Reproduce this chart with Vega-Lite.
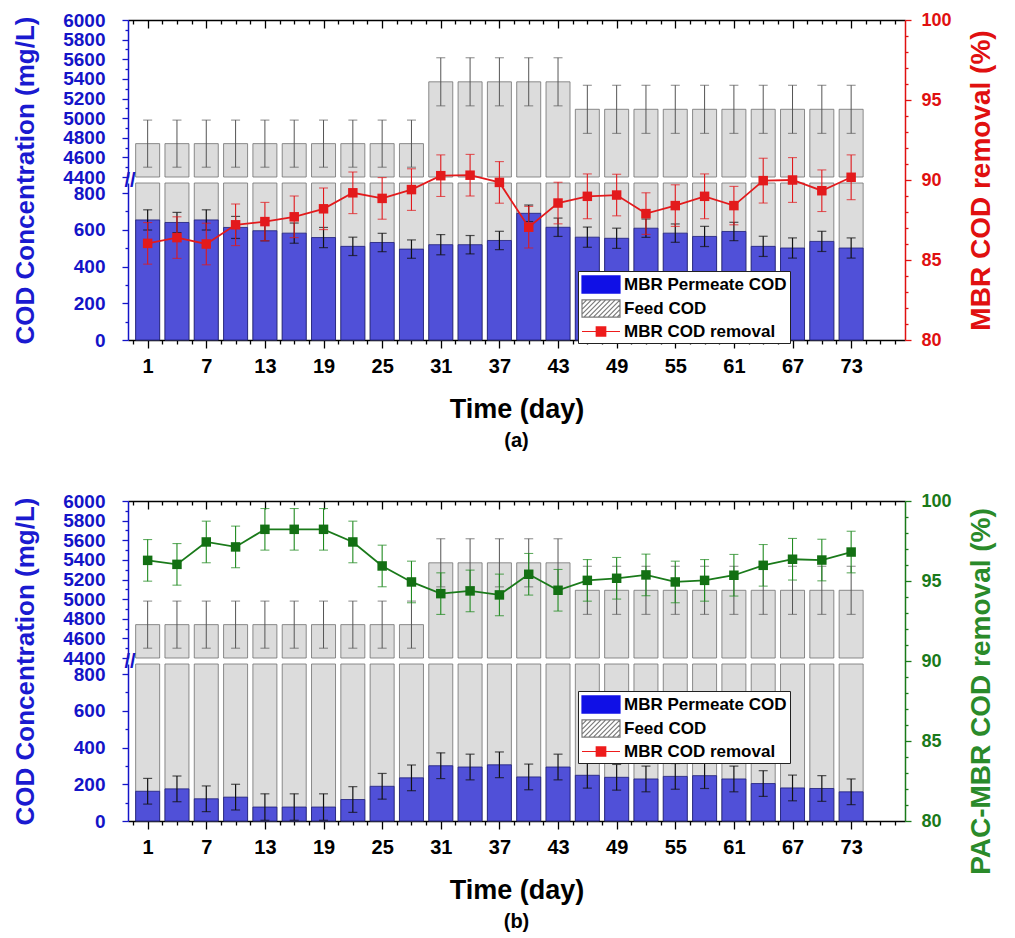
{
  "$schema": "https://vega.github.io/schema/vega-lite/v6.json",
  "padding": {"left": 12, "top": 11, "right": 5, "bottom": 5},
  "background": "white",
  "config": {
    "view": {"stroke": null},
    "font": "Liberation Sans",
    "axis": {"labelFont": "Liberation Sans", "titleFont": "Liberation Sans", "labelFontWeight": "bold", "titleFontWeight": "bold", "grid": false, "labelOverlap": false, "labelFlush": false, "labelBound": false, "domainWidth": 1.5, "tickWidth": 1.3}
  },
  "datasets": {
    "a": [
      {"day": 1, "feed": 4740, "feed_err": 240, "perm": 654, "perm_err": 55, "rem": 86.04, "rem_err": 1.3},
      {"day": 4, "feed": 4740, "feed_err": 240, "perm": 640, "perm_err": 55, "rem": 86.4, "rem_err": 1.3},
      {"day": 7, "feed": 4740, "feed_err": 240, "perm": 654, "perm_err": 55, "rem": 86.0, "rem_err": 1.3},
      {"day": 10, "feed": 4740, "feed_err": 240, "perm": 613, "perm_err": 60, "rem": 87.2, "rem_err": 1.3},
      {"day": 13, "feed": 4740, "feed_err": 240, "perm": 595, "perm_err": 55, "rem": 87.4, "rem_err": 1.2},
      {"day": 16, "feed": 4740, "feed_err": 240, "perm": 582, "perm_err": 55, "rem": 87.7, "rem_err": 1.3},
      {"day": 19, "feed": 4740, "feed_err": 240, "perm": 558, "perm_err": 55, "rem": 88.2, "rem_err": 1.3},
      {"day": 22, "feed": 4740, "feed_err": 240, "perm": 510, "perm_err": 50, "rem": 89.2, "rem_err": 1.3},
      {"day": 25, "feed": 4740, "feed_err": 240, "perm": 531, "perm_err": 50, "rem": 88.85, "rem_err": 1.3},
      {"day": 28, "feed": 4740, "feed_err": 240, "perm": 495, "perm_err": 50, "rem": 89.4, "rem_err": 1.3},
      {"day": 31, "feed": 5370, "feed_err": 245, "perm": 519, "perm_err": 55, "rem": 90.27, "rem_err": 1.3},
      {"day": 34, "feed": 5370, "feed_err": 245, "perm": 519, "perm_err": 50, "rem": 90.3, "rem_err": 1.3},
      {"day": 37, "feed": 5370, "feed_err": 245, "perm": 542, "perm_err": 50, "rem": 89.85, "rem_err": 1.3},
      {"day": 40, "feed": 5370, "feed_err": 245, "perm": 690, "perm_err": 45, "rem": 87.05, "rem_err": 1.3},
      {"day": 43, "feed": 5370, "feed_err": 245, "perm": 614, "perm_err": 50, "rem": 88.56, "rem_err": 1.3},
      {"day": 46, "feed": 5090, "feed_err": 245, "perm": 560, "perm_err": 55, "rem": 88.98, "rem_err": 1.4},
      {"day": 49, "feed": 5090, "feed_err": 245, "perm": 554, "perm_err": 55, "rem": 89.06, "rem_err": 1.3},
      {"day": 52, "feed": 5090, "feed_err": 245, "perm": 609, "perm_err": 50, "rem": 87.9, "rem_err": 1.3},
      {"day": 55, "feed": 5090, "feed_err": 245, "perm": 582, "perm_err": 50, "rem": 88.4, "rem_err": 1.3},
      {"day": 58, "feed": 5090, "feed_err": 245, "perm": 564, "perm_err": 55, "rem": 88.98, "rem_err": 1.4},
      {"day": 61, "feed": 5090, "feed_err": 245, "perm": 591, "perm_err": 50, "rem": 88.4, "rem_err": 1.2},
      {"day": 64, "feed": 5090, "feed_err": 245, "perm": 510, "perm_err": 55, "rem": 89.96, "rem_err": 1.4},
      {"day": 67, "feed": 5090, "feed_err": 245, "perm": 501, "perm_err": 55, "rem": 90.0, "rem_err": 1.4},
      {"day": 70, "feed": 5090, "feed_err": 245, "perm": 537, "perm_err": 55, "rem": 89.33, "rem_err": 1.3},
      {"day": 73, "feed": 5090, "feed_err": 245, "perm": 501, "perm_err": 55, "rem": 90.17, "rem_err": 1.4}
    ],
    "b": [
      {"day": 1, "feed": 4740, "feed_err": 240, "perm": 162, "perm_err": 70, "rem": 96.29, "rem_err": 1.3},
      {"day": 4, "feed": 4740, "feed_err": 240, "perm": 175, "perm_err": 70, "rem": 96.04, "rem_err": 1.3},
      {"day": 7, "feed": 4740, "feed_err": 240, "perm": 121, "perm_err": 70, "rem": 97.44, "rem_err": 1.3},
      {"day": 10, "feed": 4740, "feed_err": 240, "perm": 130, "perm_err": 70, "rem": 97.13, "rem_err": 1.3},
      {"day": 13, "feed": 4740, "feed_err": 240, "perm": 76, "perm_err": 72, "rem": 98.23, "rem_err": 1.3},
      {"day": 16, "feed": 4740, "feed_err": 240, "perm": 76, "perm_err": 72, "rem": 98.23, "rem_err": 1.3},
      {"day": 19, "feed": 4740, "feed_err": 240, "perm": 76, "perm_err": 72, "rem": 98.23, "rem_err": 1.3},
      {"day": 22, "feed": 4740, "feed_err": 240, "perm": 117, "perm_err": 70, "rem": 97.44, "rem_err": 1.3},
      {"day": 25, "feed": 4740, "feed_err": 240, "perm": 189, "perm_err": 70, "rem": 95.94, "rem_err": 1.3},
      {"day": 28, "feed": 4740, "feed_err": 240, "perm": 235, "perm_err": 70, "rem": 94.94, "rem_err": 1.3},
      {"day": 31, "feed": 5370, "feed_err": 245, "perm": 301, "perm_err": 70, "rem": 94.21, "rem_err": 1.3},
      {"day": 34, "feed": 5370, "feed_err": 245, "perm": 294, "perm_err": 70, "rem": 94.38, "rem_err": 1.3},
      {"day": 37, "feed": 5370, "feed_err": 245, "perm": 306, "perm_err": 70, "rem": 94.13, "rem_err": 1.3},
      {"day": 40, "feed": 5370, "feed_err": 245, "perm": 240, "perm_err": 70, "rem": 95.42, "rem_err": 1.3},
      {"day": 43, "feed": 5370, "feed_err": 245, "perm": 294, "perm_err": 70, "rem": 94.42, "rem_err": 1.3},
      {"day": 46, "feed": 5090, "feed_err": 245, "perm": 249, "perm_err": 70, "rem": 95.04, "rem_err": 1.3},
      {"day": 49, "feed": 5090, "feed_err": 245, "perm": 238, "perm_err": 70, "rem": 95.17, "rem_err": 1.3},
      {"day": 52, "feed": 5090, "feed_err": 245, "perm": 229, "perm_err": 70, "rem": 95.38, "rem_err": 1.3},
      {"day": 55, "feed": 5090, "feed_err": 245, "perm": 243, "perm_err": 70, "rem": 94.94, "rem_err": 1.3},
      {"day": 58, "feed": 5090, "feed_err": 245, "perm": 247, "perm_err": 70, "rem": 95.04, "rem_err": 1.3},
      {"day": 61, "feed": 5090, "feed_err": 245, "perm": 229, "perm_err": 70, "rem": 95.36, "rem_err": 1.3},
      {"day": 64, "feed": 5090, "feed_err": 245, "perm": 204, "perm_err": 70, "rem": 95.98, "rem_err": 1.3},
      {"day": 67, "feed": 5090, "feed_err": 245, "perm": 180, "perm_err": 70, "rem": 96.36, "rem_err": 1.3},
      {"day": 70, "feed": 5090, "feed_err": 245, "perm": 177, "perm_err": 70, "rem": 96.31, "rem_err": 1.3},
      {"day": 73, "feed": 5090, "feed_err": 245, "perm": 159, "perm_err": 70, "rem": 96.81, "rem_err": 1.3}
    ],
    "legend": [
      {"series": "MBR Permeate COD"},
      {"series": "Feed COD"},
      {"series": "MBR COD removal"}
    ],
    "brk": [
      {"mark": "//"}
    ]
  },
  "spacing": 41,
  "resolve": {"scale": {"stroke": "independent", "shape": "independent"}, "legend": {"stroke": "independent", "shape": "independent"}},
  "vconcat": [
    {
      "width": 777, "height": 320,
      "data": {"name": "a"},
      "title": {"text": "(a)", "orient": "bottom", "anchor": "middle", "fontSize": 20, "fontWeight": "bold", "font": "Liberation Sans", "color": "black", "offset": 9},
      "resolve": {"scale": {"y": "independent"}, "axis": {"x": "independent", "y": "independent"}},
      "layer": [
        {
          "mark": {"type": "bar", "width": 24, "fill": "#dcdcdc", "stroke": "#707070", "strokeWidth": 0.8},
          "encoding": {
            "x": {"field": "day", "type": "quantitative", "scale": {"domain": [-0.5, 78], "nice": false, "zero": false},
              "axis": {"orient": "bottom", "values": [-0.5, 1, 2.5, 4, 5.5, 7, 8.5, 10, 11.5, 13, 14.5, 16, 17.5, 19, 20.5, 22, 23.5, 25, 26.5, 28, 29.5, 31, 32.5, 34, 35.5, 37, 38.5, 40, 41.5, 43, 44.5, 46, 47.5, 49, 50.5, 52, 53.5, 55, 56.5, 58, 59.5, 61, 62.5, 64, 65.5, 67, 68.5, 70, 71.5, 73, 74.5, 76, 77.5],
                "labelExpr": "(datum.value - 1) % 6 == 0 ? datum.label : ''",
                "tickSize": {"condition": {"test": "(datum.value - 1) % 6 != 0", "value": 4}, "value": 8},
                "format": "d", "labelFontSize": 20, "labelColor": "black", "labelPadding": 8, "tickColor": "black", "domainColor": "black",
                "title": "Time (day)", "titleFontSize": 27, "titleColor": "black", "titlePadding": 20}},
            "y": {"field": "feed", "type": "quantitative", "scale": {"domain": [4400, 6000], "range": [157, 0], "nice": false, "zero": false},
              "axis": {"orient": "left", "values": [4400, 4500, 4600, 4700, 4800, 4900, 5000, 5100, 5200, 5300, 5400, 5500, 5600, 5700, 5800, 5900, 6000],
                "labelExpr": "datum.value % 200 == 0 ? datum.label : ''",
                "tickSize": {"condition": {"test": "datum.value % 200 != 0", "value": 3}, "value": 6},
                "format": "d", "labelFontSize": 19, "labelColor": "#1414c8", "labelPadding": 17, "tickColor": "#1414c8", "domainColor": "#1414c8", "title": null}},
            "y2": {"datum": 4400}
          }
        },
        {
          "mark": {"type": "bar", "width": 24, "fill": "#dcdcdc", "stroke": "#707070", "strokeWidth": 0.8},
          "encoding": {
            "x": {"field": "day", "type": "quantitative", "scale": {"domain": [-0.5, 78], "nice": false, "zero": false},
              "axis": {"orient": "top", "values": [-0.5, 1, 2.5, 4, 5.5, 7, 8.5, 10, 11.5, 13, 14.5, 16, 17.5, 19, 20.5, 22, 23.5, 25, 26.5, 28, 29.5, 31, 32.5, 34, 35.5, 37, 38.5, 40, 41.5, 43, 44.5, 46, 47.5, 49, 50.5, 52, 53.5, 55, 56.5, 58, 59.5, 61, 62.5, 64, 65.5, 67, 68.5, 70, 71.5, 73, 74.5, 76, 77.5],
                "labels": false,
                "tickSize": {"condition": {"test": "(datum.value - 1) % 6 != 0", "value": -4}, "value": -8},
                "tickColor": "black", "domainColor": "black", "title": null}},
            "y": {"field": "feed", "type": "quantitative", "scale": {"domain": [0, 855], "range": [320, 163], "clamp": true, "nice": false, "zero": false},
              "axis": {"orient": "left", "values": [0, 100, 200, 300, 400, 500, 600, 700, 800],
                "labelExpr": "datum.value % 200 == 0 ? datum.label : ''",
                "tickSize": {"condition": {"test": "datum.value % 200 != 0", "value": 3}, "value": 6},
                "format": "d", "labelFontSize": 19, "labelColor": "#1414c8", "labelPadding": 17, "tickColor": "#1414c8", "domainColor": "#1414c8", "title": null}},
            "y2": {"datum": 0}
          }
        },
        {
          "mark": {"type": "bar", "width": 24, "fill": "#5050d8", "stroke": "#1c1c78", "strokeWidth": 0.8},
          "encoding": {
            "x": {"field": "day", "type": "quantitative", "scale": {"domain": [-0.5, 78], "nice": false, "zero": false}, "axis": null},
            "y": {"field": "perm", "type": "quantitative", "scale": {"domain": [0, 855], "range": [320, 163], "clamp": true, "nice": false, "zero": false}, "axis": null}
          }
        },
        {
          "mark": {"type": "errorbar", "ticks": true, "size": 9, "thickness": 1, "color": "#555555"},
          "encoding": {
            "x": {"field": "day", "type": "quantitative", "scale": {"domain": [-0.5, 78], "nice": false, "zero": false}, "axis": null},
            "y": {"field": "feed", "type": "quantitative", "scale": {"domain": [4400, 6000], "range": [157, 0], "nice": false, "zero": false}, "axis": null},
            "yError": {"field": "feed_err"}
          }
        },
        {
          "mark": {"type": "errorbar", "ticks": true, "size": 9, "thickness": 1.2, "color": "#111111"},
          "encoding": {
            "x": {"field": "day", "type": "quantitative", "scale": {"domain": [-0.5, 78], "nice": false, "zero": false}, "axis": null},
            "y": {"field": "perm", "type": "quantitative", "scale": {"domain": [0, 855], "range": [320, 163], "nice": false, "zero": false}, "axis": null},
            "yError": {"field": "perm_err"}
          }
        },
        {
          "mark": {"type": "errorbar", "ticks": true, "size": 9, "thickness": 1.1, "color": "#e0181c"},
          "encoding": {
            "x": {"field": "day", "type": "quantitative", "scale": {"domain": [-0.5, 78], "nice": false, "zero": false}, "axis": null},
            "y": {"field": "rem", "type": "quantitative", "scale": {"domain": [80, 100], "nice": false, "zero": false}, "axis": null},
            "yError": {"field": "rem_err"}
          }
        },
        {
          "mark": {"type": "line", "color": "#e31a1c", "strokeWidth": 1.8},
          "encoding": {
            "x": {"field": "day", "type": "quantitative", "scale": {"domain": [-0.5, 78], "nice": false, "zero": false}, "axis": null},
            "y": {"field": "rem", "type": "quantitative", "scale": {"domain": [80, 100], "nice": false, "zero": false},
              "axis": {"orient": "right", "values": [80, 81, 82, 83, 84, 85, 86, 87, 88, 89, 90, 91, 92, 93, 94, 95, 96, 97, 98, 99, 100],
                "labelExpr": "datum.value % 5 == 0 ? datum.label : ''",
                "tickSize": {"condition": {"test": "datum.value % 5 != 0", "value": 3}, "value": 6},
                "format": "d", "labelFontSize": 18, "labelColor": "#e01010", "labelPadding": 10, "tickColor": "#e01010", "domainColor": "#e01010",
                "title": "MBR COD removal (%)", "titleColor": "#e01010", "titleFontSize": 28, "titleAngle": 270, "titlePadding": 44}}
          }
        },
        {
          "mark": {"type": "point", "shape": "square", "filled": true, "size": 90, "color": "#e31a1c", "opacity": 1},
          "encoding": {
            "x": {"field": "day", "type": "quantitative", "scale": {"domain": [-0.5, 78], "nice": false, "zero": false}, "axis": null},
            "y": {"field": "rem", "type": "quantitative", "scale": {"domain": [80, 100], "nice": false, "zero": false}, "axis": null}
          }
        },
        {
          "data": {"name": "brk"},
          "mark": {"type": "text", "fontSize": 20, "fontWeight": "bold", "color": "#1414c8", "dy": 4, "dx": -3},
          "encoding": {
            "text": {"field": "mark"},
            "x": {"datum": -0.5, "type": "quantitative", "scale": {"domain": [-0.5, 78], "nice": false, "zero": false}, "axis": null},
            "y": {"datum": 4400, "type": "quantitative", "scale": {"domain": [4400, 6000], "range": [157, 0], "nice": false, "zero": false}, "axis": null}
          }
        },
        {
          "data": {"name": "legend"},
          "mark": {"type": "point", "filled": false, "opacity": 0},
          "encoding": {
            "y": {"datum": 90, "type": "quantitative", "scale": {"domain": [80, 100], "nice": false, "zero": false},
              "axis": {"orient": "left", "labels": false, "ticks": false, "domain": false, "title": "COD Concentration (mg/L)", "titleColor": "#1a1ad0", "titleFontSize": 26, "titlePadding": 90}},
            "stroke": {"field": "series", "type": "nominal",
              "scale": {"domain": ["MBR Permeate COD", "Feed COD", "MBR COD removal"], "range": ["#1010e6", "#7a7a7a", "#ee1b1b"]},
              "legend": {"title": null, "orient": "none", "legendX": 450, "legendY": 251, "direction": "vertical", "strokeColor": "#222222", "fillColor": "white", "padding": 3, "labelFont": "Liberation Sans", "labelFontSize": 17, "labelFontWeight": "bold", "labelColor": "black", "symbolSize": 361, "symbolStrokeWidth": 1.2, "symbolOpacity": 1, "symbolFillColor": "#e8e8e8", "rowPadding": 1, "labelOffset": 22, "labelLimit": 300}},
            "shape": {"field": "series", "type": "nominal",
              "scale": {"domain": ["MBR Permeate COD", "Feed COD", "MBR COD removal"], "range": [
                "M-1,-0.9H3V0.9H-1Z M-1,-0.78H3 M-1,-0.66H3 M-1,-0.54H3 M-1,-0.42H3 M-1,-0.3H3 M-1,-0.18H3 M-1,-0.06H3 M-1,0.06H3 M-1,0.18H3 M-1,0.3H3 M-1,0.42H3 M-1,0.54H3 M-1,0.66H3 M-1,0.78H3",
                "M-1,-0.9H3V0.9H-1Z M-1,-0.4L-0.5,-0.9 M-1,0.1L0,-0.9 M-1,0.6L0.5,-0.9 M-0.8,0.9L1,-0.9 M-0.3,0.9L1.5,-0.9 M0.2,0.9L2,-0.9 M0.7,0.9L2.5,-0.9 M1.2,0.9L3,-0.9 M1.7,0.9L3,-0.4 M2.2,0.9L3,0.1 M2.7,0.9L3,0.6",
                "M-1,0H3 M0.5,-0.5H1.5V0.5H0.5Z M0.5,-0.375H1.5 M0.5,-0.25H1.5 M0.5,-0.125H1.5 M0.5,0.125H1.5 M0.5,0.25H1.5 M0.5,0.375H1.5"]}}
          }
        }
      ]
    },
    {
      "width": 777, "height": 320,
      "data": {"name": "b"},
      "title": {"text": "(b)", "orient": "bottom", "anchor": "middle", "fontSize": 20, "fontWeight": "bold", "font": "Liberation Sans", "color": "black", "offset": 9},
      "resolve": {"scale": {"y": "independent"}, "axis": {"x": "independent", "y": "independent"}},
      "layer": [
        {
          "mark": {"type": "bar", "width": 24, "fill": "#dcdcdc", "stroke": "#707070", "strokeWidth": 0.8},
          "encoding": {
            "x": {"field": "day", "type": "quantitative", "scale": {"domain": [-0.5, 78], "nice": false, "zero": false},
              "axis": {"orient": "bottom", "values": [-0.5, 1, 2.5, 4, 5.5, 7, 8.5, 10, 11.5, 13, 14.5, 16, 17.5, 19, 20.5, 22, 23.5, 25, 26.5, 28, 29.5, 31, 32.5, 34, 35.5, 37, 38.5, 40, 41.5, 43, 44.5, 46, 47.5, 49, 50.5, 52, 53.5, 55, 56.5, 58, 59.5, 61, 62.5, 64, 65.5, 67, 68.5, 70, 71.5, 73, 74.5, 76, 77.5],
                "labelExpr": "(datum.value - 1) % 6 == 0 ? datum.label : ''",
                "tickSize": {"condition": {"test": "(datum.value - 1) % 6 != 0", "value": 4}, "value": 8},
                "format": "d", "labelFontSize": 20, "labelColor": "black", "labelPadding": 8, "tickColor": "black", "domainColor": "black",
                "title": "Time (day)", "titleFontSize": 27, "titleColor": "black", "titlePadding": 20}},
            "y": {"field": "feed", "type": "quantitative", "scale": {"domain": [4400, 6000], "range": [157, 0], "nice": false, "zero": false},
              "axis": {"orient": "left", "values": [4400, 4500, 4600, 4700, 4800, 4900, 5000, 5100, 5200, 5300, 5400, 5500, 5600, 5700, 5800, 5900, 6000],
                "labelExpr": "datum.value % 200 == 0 ? datum.label : ''",
                "tickSize": {"condition": {"test": "datum.value % 200 != 0", "value": 3}, "value": 6},
                "format": "d", "labelFontSize": 19, "labelColor": "#1414c8", "labelPadding": 17, "tickColor": "#1414c8", "domainColor": "#1414c8", "title": null}},
            "y2": {"datum": 4400}
          }
        },
        {
          "mark": {"type": "bar", "width": 24, "fill": "#dcdcdc", "stroke": "#707070", "strokeWidth": 0.8},
          "encoding": {
            "x": {"field": "day", "type": "quantitative", "scale": {"domain": [-0.5, 78], "nice": false, "zero": false},
              "axis": {"orient": "top", "values": [-0.5, 1, 2.5, 4, 5.5, 7, 8.5, 10, 11.5, 13, 14.5, 16, 17.5, 19, 20.5, 22, 23.5, 25, 26.5, 28, 29.5, 31, 32.5, 34, 35.5, 37, 38.5, 40, 41.5, 43, 44.5, 46, 47.5, 49, 50.5, 52, 53.5, 55, 56.5, 58, 59.5, 61, 62.5, 64, 65.5, 67, 68.5, 70, 71.5, 73, 74.5, 76, 77.5],
                "labels": false,
                "tickSize": {"condition": {"test": "(datum.value - 1) % 6 != 0", "value": -4}, "value": -8},
                "tickColor": "black", "domainColor": "black", "title": null}},
            "y": {"field": "feed", "type": "quantitative", "scale": {"domain": [0, 855], "range": [320, 163], "clamp": true, "nice": false, "zero": false},
              "axis": {"orient": "left", "values": [0, 100, 200, 300, 400, 500, 600, 700, 800],
                "labelExpr": "datum.value % 200 == 0 ? datum.label : ''",
                "tickSize": {"condition": {"test": "datum.value % 200 != 0", "value": 3}, "value": 6},
                "format": "d", "labelFontSize": 19, "labelColor": "#1414c8", "labelPadding": 17, "tickColor": "#1414c8", "domainColor": "#1414c8", "title": null}},
            "y2": {"datum": 0}
          }
        },
        {
          "mark": {"type": "bar", "width": 24, "fill": "#5050d8", "stroke": "#1c1c78", "strokeWidth": 0.8},
          "encoding": {
            "x": {"field": "day", "type": "quantitative", "scale": {"domain": [-0.5, 78], "nice": false, "zero": false}, "axis": null},
            "y": {"field": "perm", "type": "quantitative", "scale": {"domain": [0, 855], "range": [320, 163], "clamp": true, "nice": false, "zero": false}, "axis": null}
          }
        },
        {
          "mark": {"type": "errorbar", "ticks": true, "size": 9, "thickness": 1, "color": "#555555"},
          "encoding": {
            "x": {"field": "day", "type": "quantitative", "scale": {"domain": [-0.5, 78], "nice": false, "zero": false}, "axis": null},
            "y": {"field": "feed", "type": "quantitative", "scale": {"domain": [4400, 6000], "range": [157, 0], "nice": false, "zero": false}, "axis": null},
            "yError": {"field": "feed_err"}
          }
        },
        {
          "mark": {"type": "errorbar", "ticks": true, "size": 9, "thickness": 1.2, "color": "#111111"},
          "encoding": {
            "x": {"field": "day", "type": "quantitative", "scale": {"domain": [-0.5, 78], "nice": false, "zero": false}, "axis": null},
            "y": {"field": "perm", "type": "quantitative", "scale": {"domain": [0, 855], "range": [320, 163], "nice": false, "zero": false}, "axis": null},
            "yError": {"field": "perm_err"}
          }
        },
        {
          "mark": {"type": "errorbar", "ticks": true, "size": 9, "thickness": 1.1, "color": "#1f8a1f"},
          "encoding": {
            "x": {"field": "day", "type": "quantitative", "scale": {"domain": [-0.5, 78], "nice": false, "zero": false}, "axis": null},
            "y": {"field": "rem", "type": "quantitative", "scale": {"domain": [80, 100], "nice": false, "zero": false}, "axis": null},
            "yError": {"field": "rem_err"}
          }
        },
        {
          "mark": {"type": "line", "color": "#1a7a1a", "strokeWidth": 1.8},
          "encoding": {
            "x": {"field": "day", "type": "quantitative", "scale": {"domain": [-0.5, 78], "nice": false, "zero": false}, "axis": null},
            "y": {"field": "rem", "type": "quantitative", "scale": {"domain": [80, 100], "nice": false, "zero": false},
              "axis": {"orient": "right", "values": [80, 81, 82, 83, 84, 85, 86, 87, 88, 89, 90, 91, 92, 93, 94, 95, 96, 97, 98, 99, 100],
                "labelExpr": "datum.value % 5 == 0 ? datum.label : ''",
                "tickSize": {"condition": {"test": "datum.value % 5 != 0", "value": 3}, "value": 6},
                "format": "d", "labelFontSize": 18, "labelColor": "#1a7a1a", "labelPadding": 10, "tickColor": "#1a7a1a", "domainColor": "#1a7a1a",
                "title": "PAC-MBR COD removal (%)", "titleColor": "#2a8a2a", "titleFontSize": 28, "titleAngle": 270, "titlePadding": 44, "titleY": 190}}
          }
        },
        {
          "mark": {"type": "point", "shape": "square", "filled": true, "size": 90, "color": "#137013", "opacity": 1},
          "encoding": {
            "x": {"field": "day", "type": "quantitative", "scale": {"domain": [-0.5, 78], "nice": false, "zero": false}, "axis": null},
            "y": {"field": "rem", "type": "quantitative", "scale": {"domain": [80, 100], "nice": false, "zero": false}, "axis": null}
          }
        },
        {
          "data": {"name": "brk"},
          "mark": {"type": "text", "fontSize": 20, "fontWeight": "bold", "color": "#1414c8", "dy": 4, "dx": -3},
          "encoding": {
            "text": {"field": "mark"},
            "x": {"datum": -0.5, "type": "quantitative", "scale": {"domain": [-0.5, 78], "nice": false, "zero": false}, "axis": null},
            "y": {"datum": 4400, "type": "quantitative", "scale": {"domain": [4400, 6000], "range": [157, 0], "nice": false, "zero": false}, "axis": null}
          }
        },
        {
          "data": {"name": "legend"},
          "mark": {"type": "point", "filled": false, "opacity": 0},
          "encoding": {
            "y": {"datum": 90, "type": "quantitative", "scale": {"domain": [80, 100], "nice": false, "zero": false},
              "axis": {"orient": "left", "labels": false, "ticks": false, "domain": false, "title": "COD Concentration (mg/L)", "titleColor": "#1a1ad0", "titleFontSize": 26, "titlePadding": 90}},
            "stroke": {"field": "series", "type": "nominal",
              "scale": {"domain": ["MBR Permeate COD", "Feed COD", "MBR COD removal"], "range": ["#1010e6", "#7a7a7a", "#ee1b1b"]},
              "legend": {"title": null, "orient": "none", "legendX": 450, "legendY": 190, "direction": "vertical", "strokeColor": "#222222", "fillColor": "white", "padding": 3, "labelFont": "Liberation Sans", "labelFontSize": 17, "labelFontWeight": "bold", "labelColor": "black", "symbolSize": 361, "symbolStrokeWidth": 1.2, "symbolOpacity": 1, "symbolFillColor": "#e8e8e8", "rowPadding": 1, "labelOffset": 22, "labelLimit": 300}},
            "shape": {"field": "series", "type": "nominal",
              "scale": {"domain": ["MBR Permeate COD", "Feed COD", "MBR COD removal"], "range": [
                "M-1,-0.9H3V0.9H-1Z M-1,-0.78H3 M-1,-0.66H3 M-1,-0.54H3 M-1,-0.42H3 M-1,-0.3H3 M-1,-0.18H3 M-1,-0.06H3 M-1,0.06H3 M-1,0.18H3 M-1,0.3H3 M-1,0.42H3 M-1,0.54H3 M-1,0.66H3 M-1,0.78H3",
                "M-1,-0.9H3V0.9H-1Z M-1,-0.4L-0.5,-0.9 M-1,0.1L0,-0.9 M-1,0.6L0.5,-0.9 M-0.8,0.9L1,-0.9 M-0.3,0.9L1.5,-0.9 M0.2,0.9L2,-0.9 M0.7,0.9L2.5,-0.9 M1.2,0.9L3,-0.9 M1.7,0.9L3,-0.4 M2.2,0.9L3,0.1 M2.7,0.9L3,0.6",
                "M-1,0H3 M0.5,-0.5H1.5V0.5H0.5Z M0.5,-0.375H1.5 M0.5,-0.25H1.5 M0.5,-0.125H1.5 M0.5,0.125H1.5 M0.5,0.25H1.5 M0.5,0.375H1.5"]}}
          }
        }
      ]
    }
  ]
}
